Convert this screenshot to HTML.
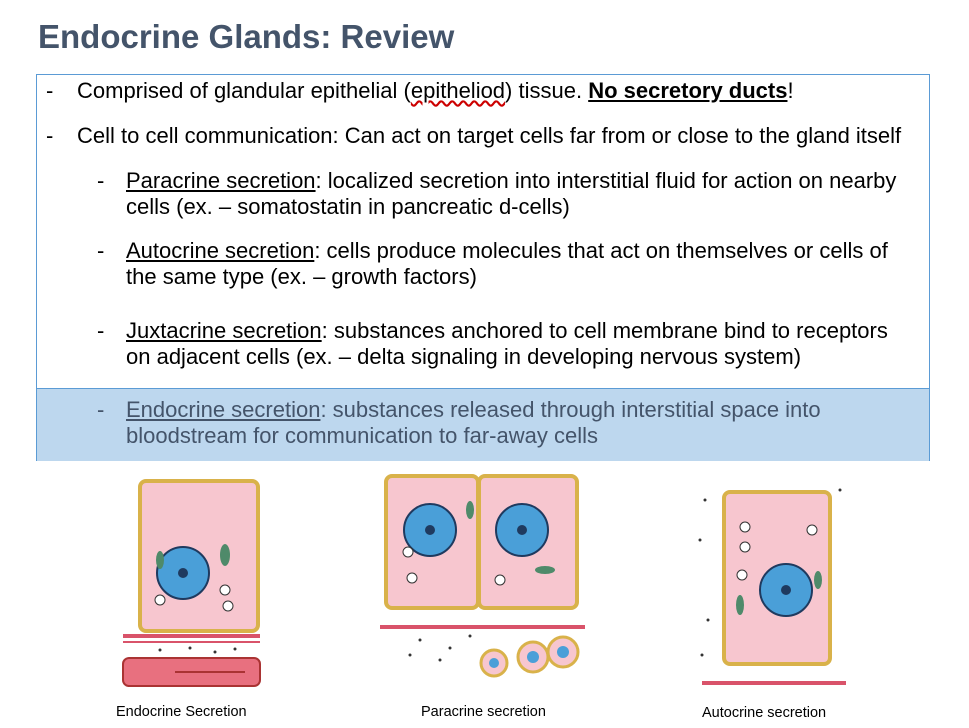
<!DOCTYPE html>
<html><head><meta charset="utf-8">
<style>
body{margin:0;width:969px;height:728px;background:#fff;font-family:"Liberation Sans",sans-serif;position:relative;overflow:hidden}
.t{position:absolute;white-space:nowrap}
#title{left:38px;top:18px;font-size:33px;font-weight:bold;color:#44546A}
#box{position:absolute;left:36px;top:74px;width:892px;height:385px;border:1px solid #5B9BD5}
#blue{position:absolute;left:0;top:313px;width:892px;height:72px;background:#BDD7EE;border-top:1px solid #5B9BD5}
.l{font-size:22px;color:#000;line-height:26px}
.d{font-size:22px}
.cap{font-size:14.5px;color:#000}
u{text-decoration:underline}
</style></head><body>
<div id="title" class="t">Endocrine Glands: Review</div>
<div id="box"><div id="blue"></div></div>

<div class="t d" style="left:46px;top:78px">-</div>
<div class="t l" style="left:77px;top:78px">Comprised of glandular epithelial (<span style="text-decoration:underline wavy #c00">epitheliod</span>) tissue. <b><u>No secretory ducts</u></b>!</div>
<div class="t d" style="left:46px;top:123px">-</div>
<div class="t l" style="left:77px;top:123px">Cell to cell communication: Can act on target cells far from or close to the gland itself</div>

<div class="t d" style="left:97px;top:168px">-</div>
<div class="t l" style="left:126px;top:168px"><u>Paracrine secretion</u>: localized secretion into interstitial fluid for action on nearby<br>cells (ex. – somatostatin in pancreatic d-cells)</div>
<div class="t d" style="left:97px;top:238px">-</div>
<div class="t l" style="left:126px;top:238px"><u>Autocrine secretion</u>: cells produce molecules that act on themselves or cells of<br>the same type (ex. – growth factors)</div>
<div class="t d" style="left:97px;top:318px">-</div>
<div class="t l" style="left:126px;top:318px"><u>Juxtacrine secretion</u>: substances anchored to cell membrane bind to receptors<br>on adjacent cells (ex. – delta signaling in developing nervous system)</div>
<div class="t d" style="left:97px;top:397px;color:#44546A">-</div>
<div class="t l" style="left:126px;top:397px;color:#44546A"><u>Endocrine secretion</u>: substances released through interstitial space into<br>bloodstream for communication to far-away cells</div>

<svg style="position:absolute;left:0;top:0" width="969" height="728">
<defs>
<g id="nuc"><circle r="26" fill="#4a9fd8" stroke="#1f3a5f" stroke-width="2"/><circle r="5" fill="#1f3a5f"/></g>
</defs>
<g>
<rect x="140" y="481" width="118" height="150" rx="6" fill="#f7c6cf" stroke="#d9b24a" stroke-width="4"/>
<use href="#nuc" x="183" y="573"/>
<circle cx="225" cy="590" r="5" fill="#fff" stroke="#333"/><circle cx="228" cy="606" r="5" fill="#fff" stroke="#333"/><circle cx="160" cy="600" r="5" fill="#fff" stroke="#333"/>
<ellipse cx="225" cy="555" rx="5" ry="11" fill="#4f8a6a"/><ellipse cx="160" cy="560" rx="4" ry="9" fill="#4f8a6a"/>
<rect x="123" y="634" width="137" height="4" fill="#d9536a"/><rect x="123" y="641" width="137" height="2" fill="#d9536a"/>
<rect x="123" y="658" width="137" height="28" rx="6" fill="#e8707f" stroke="#a33" stroke-width="2"/>
<path d="M175 672 H245" stroke="#a33" stroke-width="2"/>
</g>
<g>
<rect x="386" y="476" width="92" height="132" rx="6" fill="#f7c6cf" stroke="#d9b24a" stroke-width="4"/>
<rect x="479" y="476" width="98" height="132" rx="6" fill="#f7c6cf" stroke="#d9b24a" stroke-width="4"/>
<use href="#nuc" x="430" y="530"/><use href="#nuc" x="522" y="530"/>
<circle cx="408" cy="552" r="5" fill="#fff" stroke="#333"/><circle cx="412" cy="578" r="5" fill="#fff" stroke="#333"/><circle cx="500" cy="580" r="5" fill="#fff" stroke="#333"/>
<ellipse cx="470" cy="510" rx="4" ry="9" fill="#4f8a6a"/><ellipse cx="545" cy="570" rx="10" ry="4" fill="#4f8a6a"/>
<rect x="380" y="625" width="205" height="4" fill="#d9536a"/>
<circle cx="494" cy="663" r="13" fill="#f7c6cf" stroke="#d9b24a" stroke-width="3"/><circle cx="494" cy="663" r="5" fill="#4a9fd8"/>
<circle cx="533" cy="657" r="15" fill="#f7c6cf" stroke="#d9b24a" stroke-width="3"/><circle cx="533" cy="657" r="6" fill="#4a9fd8"/>
<circle cx="563" cy="652" r="15" fill="#f7c6cf" stroke="#d9b24a" stroke-width="3"/><circle cx="563" cy="652" r="6" fill="#4a9fd8"/>
</g>
<g>
<rect x="724" y="492" width="106" height="172" rx="6" fill="#f7c6cf" stroke="#d9b24a" stroke-width="4"/>
<use href="#nuc" x="786" y="590"/>
<circle cx="745" cy="527" r="5" fill="#fff" stroke="#333"/><circle cx="745" cy="547" r="5" fill="#fff" stroke="#333"/><circle cx="742" cy="575" r="5" fill="#fff" stroke="#333"/><circle cx="812" cy="530" r="5" fill="#fff" stroke="#333"/>
<ellipse cx="740" cy="605" rx="4" ry="10" fill="#4f8a6a"/><ellipse cx="818" cy="580" rx="4" ry="9" fill="#4f8a6a"/>
<rect x="702" y="681" width="144" height="4" fill="#d9536a"/>
</g>
<g fill="#333">
<circle cx="160" cy="650" r="1.5"/><circle cx="190" cy="648" r="1.5"/><circle cx="215" cy="652" r="1.5"/><circle cx="235" cy="649" r="1.5"/>
<circle cx="420" cy="640" r="1.5"/><circle cx="450" cy="648" r="1.5"/><circle cx="470" cy="636" r="1.5"/><circle cx="410" cy="655" r="1.5"/><circle cx="440" cy="660" r="1.5"/>
<circle cx="705" cy="500" r="1.5"/><circle cx="700" cy="540" r="1.5"/><circle cx="708" cy="620" r="1.5"/><circle cx="702" cy="655" r="1.5"/><circle cx="840" cy="490" r="1.5"/>
</g>
</svg>

<div class="t cap" style="left:116px;top:704px">Endocrine Secretion</div>
<div class="t cap" style="left:421px;top:704px">Paracrine secretion</div>
<div class="t cap" style="left:702px;top:705px">Autocrine secretion</div>
</body></html>
